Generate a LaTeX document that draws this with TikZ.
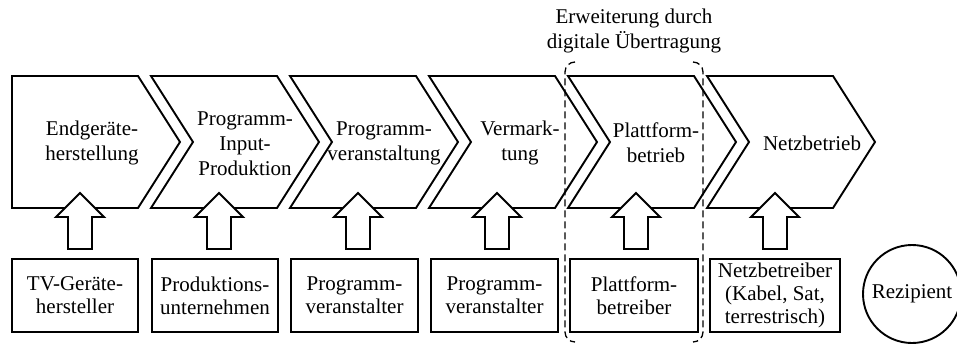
\documentclass[tikz,border=0pt]{standalone}
\usepackage{fontspec}
\setmainfont{Liberation Serif}
\begin{document}
\begin{tikzpicture}[x=1pt, y=-1pt, line join=miter,
  outline/.style={draw=black, line width=1.9pt, fill=white},
  lbl/.style={font=\fontsize{21}{25}\selectfont, align=center, inner sep=0pt},
  actor/.style={draw=black, line width=1.9pt, fill=white, inner sep=0pt, outer sep=0pt,
    minimum height=73pt, align=center, font=\fontsize{21}{23}\selectfont},
  bracket/.style={draw=black, line width=1.3pt, dash pattern=on 7pt off 4pt,
    rounded corners=10pt},
  pics/liftarrow/.style={code={
    \draw[outline] (0,193) -- (24,217) -- (12,217) -- (12,249) -- (-12,249)
      -- (-12,217) -- (-24,217) -- cycle;}}]
\useasboundingbox (0,0) rectangle (957,345);

% value chain: first stage with a flat back, the others notched
\draw[outline] (12,76) -- (138,76) -- (180,142) -- (138,208) -- (12,208) -- cycle;
\foreach \i in {1,...,5}{
  \pgfmathsetmacro{\L}{12+139*\i}
  \draw[outline] (\L,76) -- (\L+126,76) -- (\L+168,142) -- (\L+126,208)
    -- (\L,208) -- (\L+42,142) -- cycle;
}

% stage labels
\node[lbl] (s1) at (92,143) {Endgeräte-\\herstellung};
\node[lbl] (s2) at (245,144) {Programm-\\Input-\\Produktion};
\node[lbl] (s3) at (384,143) {Programm-\\veranstaltung};
\node[lbl] (s4) at (520,143) {Vermark-\\tung};
\node[lbl] (s5) at (656,143) {Plattform-\\betrieb};
\node[lbl] (s6) at (812,143) {Netzbetrieb};

% contributing actors
\node[actor, minimum width=126pt] (a1) at (75,295.5) {TV-Geräte-\\hersteller};
\node[actor, minimum width=126pt] (a2) at (215,295.5) {Produktions-\\unternehmen};
\node[actor, minimum width=127pt] (a3) at (354.5,295.5) {Programm-\\veranstalter};
\node[actor, minimum width=127pt] (a4) at (494.5,295.5) {Programm-\\veranstalter};
\node[actor, minimum width=128pt] (a5) at (634,295.5) {Plattform-\\betreiber};
\node[actor, minimum width=130pt] (a6) at (775,295.5) {Netzbetreiber\\(Kabel, Sat,\\terrestrisch)};
\node[draw=black, line width=1.9pt, circle, minimum size=98pt, inner sep=0pt,
  font=\fontsize{21}{23}\selectfont] (r) at (912,294) {Rezipient};

% block arrows from the actors into the stages
\foreach \x in {80,219,358,497,636,775}{
  \pic at (\x,0) {liftarrow};
}

% stage added by digital transmission, marked by two dashed brackets
\coordinate (extNW) at (565,62);
\coordinate (extSW) at (565,342);
\coordinate (extNE) at (703,62);
\coordinate (extSE) at (703,342);
\draw[bracket] ([xshift=10pt]extNW) -- (extNW) -- (extSW) -- ([xshift=10pt]extSW);
\draw[bracket] ([xshift=-10pt]extNE) -- (extNE) -- (extSE) -- ([xshift=-10pt]extSE);
\node[lbl] (title) at (634,31) {Erweiterung durch\\digitale Übertragung};
\end{tikzpicture}
\end{document}
